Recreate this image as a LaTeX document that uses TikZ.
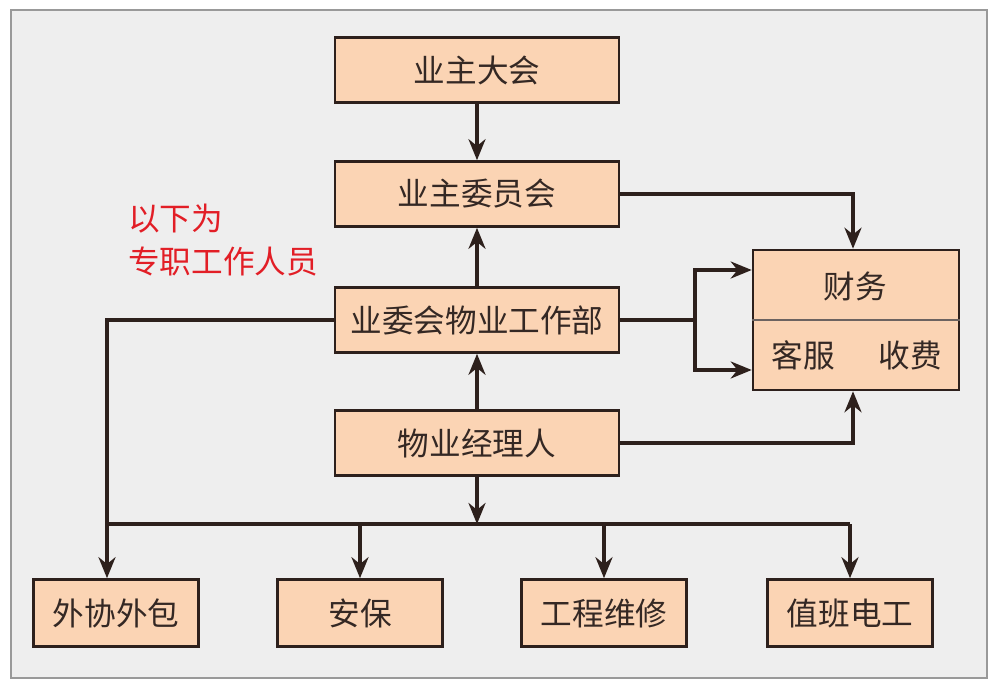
\documentclass[tikz,border=0pt]{standalone}
\usepackage{fontspec}
\setmainfont{Noto Sans CJK SC}
\usetikzlibrary{arrows.meta}

\definecolor{peach}{RGB}{251,212,180}
\definecolor{edge}{RGB}{45,32,28}
\definecolor{ink}{RGB}{52,40,36}
\definecolor{panel}{RGB}{238,238,238}
\definecolor{note}{RGB}{226,30,38}

\begin{document}
\begin{tikzpicture}[x=0.02cm, y=-0.02cm,
        box/.style={draw=edge, fill=peach, line width=1.5pt, text=ink,
            font=\fontsize{18}{21}\selectfont, inner sep=0pt},
        bigbox/.style={box, minimum width=5.68cm, minimum height=1.3cm},
        smallbox/.style={box, minimum width=3.3cm, minimum height=1.34cm},
        link/.style={draw=edge, line width=2.1pt},
        arr/.style={link, -{Stealth[length=0.42cm, width=0.34cm]}}]
    \useasboundingbox (0,0) rectangle (1000,689);
    % Panel
    \draw[fill=panel, draw=gray!80, line width=1.2pt] (11,10) rectangle (987,678);

    % Boxes of the main column
    \node[bigbox] (dh) at (477,70)  {业主大会};
    \node[bigbox] (wy) at (477,194) {业主委员会};
    \node[bigbox] (gz) at (477,320) {业委会物业工作部};
    \node[bigbox] (jl) at (477,443) {物业经理人};

    % Finance box
    \node[box, minimum width=4.12cm, minimum height=2.8cm] (cw) at (856,320) {};
    \draw[draw=edge!70, line width=0.8pt] (cw.west) -- (cw.east);
    \node[text=ink, font=\fontsize{18}{21}\selectfont] (cwt) at (855,286) {财务};
    \node[text=ink, font=\fontsize{18}{21}\selectfont] (kf) at (803,355) {客服};
    \node[text=ink, font=\fontsize{18}{21}\selectfont] (sf) at (910,355) {收费};

    % Bottom row
    \node[smallbox] (wx) at (116,613) {外协外包};
    \node[smallbox] (ab) at (360,613) {安保};
    \node[smallbox] (gc) at (604,613) {工程维修};
    \node[smallbox] (zb) at (850,613) {值班电工};

    % Note
    \node[text=note, font=\fontsize{18}{24}\selectfont, align=left, anchor=north west,
        inner sep=0pt] (bz) at (128,204) {以下为\\专职工作人员};

    % Connectors
    \draw[arr] (dh) -- (wy);
    \draw[arr] (gz) -- (wy);
    \draw[arr] (jl) -- (gz);
    \draw[arr] (wy.east) -| ([xshift=-0.06cm]cw.north);
    \draw[arr] (jl.east) -| ([xshift=-0.06cm]cw.south);
    \coordinate (fork) at (695,320);
    \draw[link] (gz.east) -- (fork);
    \draw[arr] (fork) |- ([yshift=1cm]cw.west);
    \draw[arr] (fork) |- ([yshift=-1cm]cw.west);
    \draw[arr] (gz.west) -| ([xshift=-0.18cm]wx.north);

    % Bus to the bottom row
    \coordinate (bus) at (477,524);
    \draw[arr] (jl.south) -- (bus);
    \draw[link] (bus -| 107,0) -- (bus -| zb.north);
    \foreach \b in {ab, gc, zb} {
        \draw[arr] (bus -| \b.north) -- (\b.north);
    }
\end{tikzpicture}
\end{document}
